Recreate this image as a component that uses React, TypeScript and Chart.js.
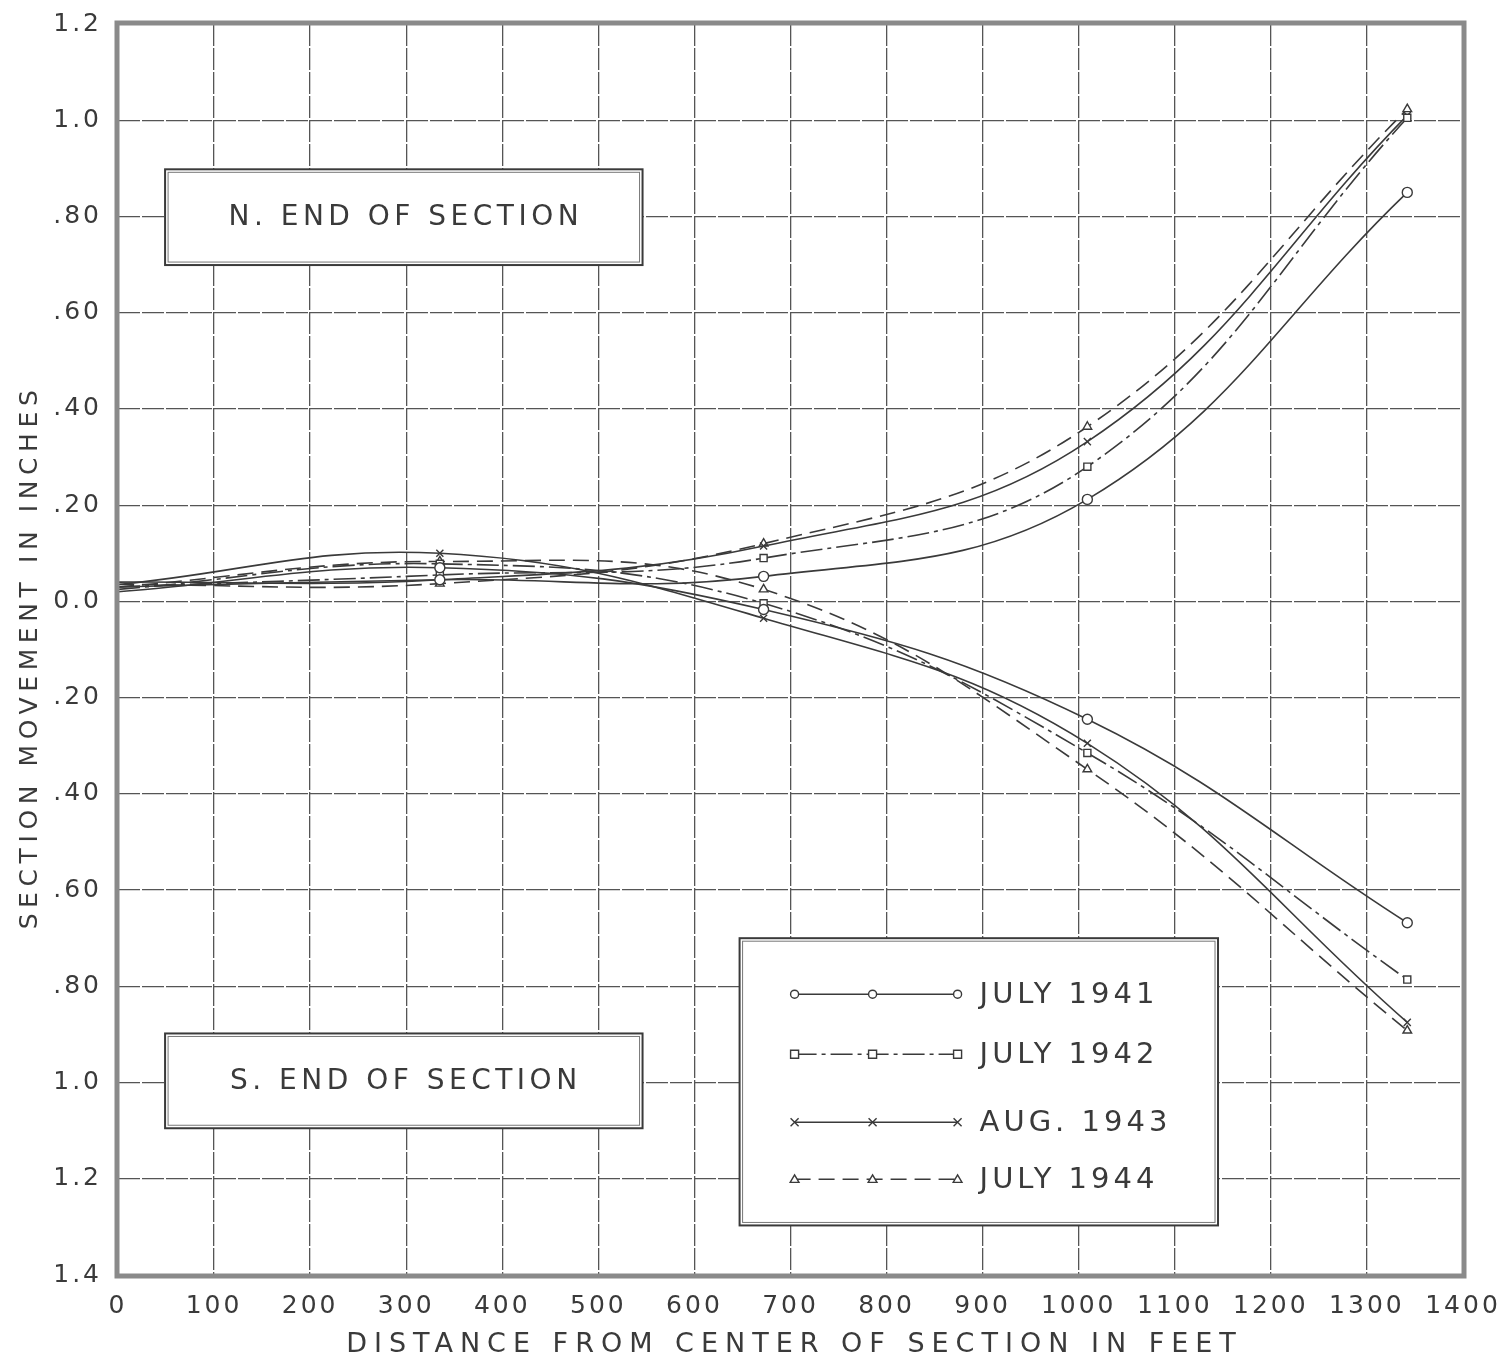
import React, { useEffect, useRef } from "react";
import { Chart, registerables } from "chart.js";

Chart.register(...registerables);

// ---- data ----
const xPositions = [0, 335, 672, 1009, 1342];
const seriesNames = ["JULY 1941", "JULY 1942", "AUG. 1943", "JULY 1944"];

// N. end of section (movement, inches)
const north1941 = [0.03, 0.045, 0.052, 0.212, 0.85];
const north1942 = [0.03, 0.055, 0.09, 0.28, 1.005];
const north1943 = [0.04, 0.045, 0.115, 0.332, 1.01];
const north1944 = [0.035, 0.037, 0.12, 0.363, 1.023];

// S. end of section (movement, inches; plotted downward)
const south1941 = [0.02, 0.07, -0.017, -0.245, -0.668];
const south1942 = [0.025, 0.078, -0.004, -0.315, -0.786];
const south1943 = [0.035, 0.1, -0.035, -0.295, -0.875];
const south1944 = [0.03, 0.083, 0.025, -0.349, -0.892];

const xTickValues = [0, 100, 200, 300, 400, 500, 600, 700, 800, 900, 1000, 1100, 1200, 1300, 1400];
const xTickLabels = ["0", "100", "200", "300", "400", "500", "600", "700", "800", "900", "1000", "1100", "1200", "1300", "1400"];
const yTickValues = [1.2, 1.0, 0.8, 0.6, 0.4, 0.2, 0, -0.2, -0.4, -0.6, -0.8, -1.0, -1.2, -1.4];
const yTickLabels = ["1.2", "1.0", ".80", ".60", ".40", ".20", "0.0", ".20", ".40", ".60", ".80", "1.0", "1.2", "1.4"];

const northTitle = "N. END OF SECTION";
const southTitle = "S. END OF SECTION";
const xTitle = "DISTANCE FROM CENTER OF SECTION IN FEET";
const yTitle = "SECTION MOVEMENT IN INCHES";

// ---- styles ----
const INK = "#3a3a3a";
const FONT = "'DejaVu Sans', sans-serif";
const pointStyles = ["circle", "rect", "crossRot", "triangle"];
const dashes: number[][] = [[], [22, 5, 4, 5], [], [16, 8]];
const northSeries = [north1941, north1942, north1943, north1944];
const southSeries = [south1941, south1942, south1943, south1944];

function toPoints(arr: number[]) {
  return xPositions.map((x, i) => ({ x, y: arr[i] }));
}

function drawMarker(ctx: CanvasRenderingContext2D, style: string, x: number, y: number, r: number) {
  ctx.save();
  ctx.beginPath();
  ctx.lineWidth = 1.4;
  ctx.strokeStyle = INK;
  ctx.fillStyle = "#fff";
  ctx.setLineDash([]);
  if (style === "circle") {
    ctx.arc(x, y, r, 0, Math.PI * 2);
    ctx.fill();
    ctx.stroke();
  } else if (style === "rect") {
    ctx.rect(x - r, y - r, 2 * r, 2 * r);
    ctx.fill();
    ctx.stroke();
  } else if (style === "crossRot") {
    ctx.moveTo(x - r, y - r);
    ctx.lineTo(x + r, y + r);
    ctx.moveTo(x - r, y + r);
    ctx.lineTo(x + r, y - r);
    ctx.stroke();
  } else {
    ctx.moveTo(x, y - r * 1.1);
    ctx.lineTo(x + r * 1.1, y + r * 0.8);
    ctx.lineTo(x - r * 1.1, y + r * 0.8);
    ctx.closePath();
    ctx.fill();
    ctx.stroke();
  }
  ctx.restore();
}

function drawTextBox(ctx: CanvasRenderingContext2D, l: number, t: number, r: number, b: number, text: string) {
  ctx.save();
  ctx.fillStyle = "#fff";
  ctx.fillRect(l, t, r - l, b - t);
  ctx.strokeStyle = INK;
  ctx.lineWidth = 2;
  ctx.strokeRect(l, t, r - l, b - t);
  ctx.lineWidth = 1;
  ctx.strokeStyle = "#777";
  ctx.strokeRect(l + 3, t + 3, r - l - 6, b - t - 6);
  if (text) {
    ctx.fillStyle = INK;
    ctx.font = `28px ${FONT}`;
    (ctx as any).letterSpacing = "4.5px";
    ctx.textAlign = "center";
    ctx.textBaseline = "middle";
    ctx.fillText(text, (l + r) / 2 + 2, (t + b) / 2 + 1);
  }
  ctx.restore();
}

const spacingPlugin = {
  id: "tickSpacing",
  beforeLayout(chart: any) {
    (chart.ctx as any).letterSpacing = "3px";
  },
  beforeDraw(chart: any) {
    (chart.ctx as any).letterSpacing = "3px";
  },
};

const decorPlugin = {
  id: "decor",
  beforeDatasetsDraw(chart: any) {
    const { ctx, scales } = chart;
    const x = scales.x;
    const y = scales.y;
    // annotation boxes
    drawTextBox(ctx, x.getPixelForValue(49), y.getPixelForValue(0.898), x.getPixelForValue(546), y.getPixelForValue(0.699), northTitle);
    drawTextBox(ctx, x.getPixelForValue(49), y.getPixelForValue(-0.898), x.getPixelForValue(546), y.getPixelForValue(-1.095), southTitle);
    // legend box
    const L = x.getPixelForValue(647);
    const R = x.getPixelForValue(1145);
    const T = y.getPixelForValue(-0.70);
    const B = y.getPixelForValue(-1.297);
    drawTextBox(ctx, L, T, R, B, "");
    const rowOffsets = [56, 116, 184, 241];
    seriesNames.forEach((name, i) => {
      const ry = T + rowOffsets[i];
      const x0 = L + 55;
      const x1 = L + 133;
      const x2 = L + 218;
      ctx.save();
      ctx.strokeStyle = INK;
      ctx.lineWidth = 1.5;
      ctx.setLineDash(dashes[i]);
      ctx.beginPath();
      ctx.moveTo(x0, ry);
      ctx.lineTo(x2, ry);
      ctx.stroke();
      ctx.restore();
      [x0, x1, x2].forEach((mx) => drawMarker(ctx, pointStyles[i], mx, ry, 4));
      ctx.save();
      ctx.fillStyle = INK;
      ctx.font = `29px ${FONT}`;
      (ctx as any).letterSpacing = "4px";
      ctx.textAlign = "left";
      ctx.textBaseline = "middle";
      ctx.fillText(name, L + 240, ry + 1);
      ctx.restore();
    });
  },
  afterDraw(chart: any) {
    const { ctx, chartArea } = chart;
    const { left, right, top, bottom } = chartArea;
    ctx.save();
    ctx.strokeStyle = "#8a8a8a";
    ctx.lineWidth = 5;
    ctx.strokeRect(left - 1, top - 1, right - left + 2, bottom - top + 2);
    ctx.restore();
    // axis titles
    ctx.save();
    ctx.fillStyle = INK;
    ctx.font = `27px ${FONT}`;
    (ctx as any).letterSpacing = "7px";
    ctx.textAlign = "center";
    ctx.textBaseline = "middle";
    ctx.fillText(xTitle, (left + right) / 2 + 4, 1345);
    ctx.restore();
    ctx.save();
    ctx.fillStyle = INK;
    ctx.font = `25px ${FONT}`;
    (ctx as any).letterSpacing = "5.6px";
    ctx.textAlign = "center";
    ctx.textBaseline = "middle";
    ctx.translate(30, 657);
    ctx.rotate(-Math.PI / 2);
    ctx.fillText(yTitle, 0, 0);
    ctx.restore();
  },
};

export default function App() {
  const canvasRef = useRef<HTMLCanvasElement | null>(null);

  useEffect(() => {
    const canvas = canvasRef.current;
    if (!canvas) return;
    const datasets: any[] = [];
    seriesNames.forEach((name, i) => {
      [northSeries[i], southSeries[i]].forEach((arr, k) => {
        datasets.push({
          label: `${name} ${k === 0 ? "N" : "S"}`,
          data: toPoints(arr),
          borderColor: INK,
          borderWidth: 1.6,
          borderDash: dashes[i],
          tension: 0.4,
          fill: false,
          pointStyle: pointStyles[i],
          pointRadius: [0, 5, 5, 5, 5],
          pointBorderColor: INK,
          pointBackgroundColor: "#fff",
          pointBorderWidth: 1.4,
        });
      });
    });

    const chart = new Chart(canvas, {
      type: "line",
      data: { datasets },
      plugins: [spacingPlugin, decorPlugin],
      options: {
        animation: false,
        responsive: false,
        devicePixelRatio: 1,
        layout: { padding: { left: 0, top: 24, right: 39, bottom: 0 } },
        plugins: { legend: { display: false }, tooltip: { enabled: false } },
        scales: {
          x: {
            type: "linear",
            min: 0,
            max: 1400,
            afterFit: (s: any) => {
              s.height = 91;
              s.paddingLeft = 0;
              s.paddingRight = 0;
            },
            afterBuildTicks: (s: any) => {
              s.ticks = xTickValues.map((v) => ({ value: v }));
            },
            ticks: {
              padding: 16,
              color: INK,
              font: { family: FONT, size: 25 },
              maxRotation: 0,
              autoSkip: false,
              callback: (v: any) => {
                const idx = xTickValues.indexOf(Number(v));
                return idx >= 0 ? xTickLabels[idx] : "";
              },
            },
            grid: { color: "#555", lineWidth: 1.3, drawTicks: false },
            border: { display: false, dash: [22, 2] },
          },
          y: {
            type: "linear",
            min: -1.4,
            max: 1.2,
            afterFit: (s: any) => {
              s.width = 118;
              s.paddingTop = 0;
              s.paddingBottom = 0;
            },
            afterBuildTicks: (s: any) => {
              s.ticks = yTickValues.map((v) => ({ value: v }));
            },
            ticks: {
              padding: 16,
              color: INK,
              font: { family: FONT, size: 25 },
              autoSkip: false,
              callback: (v: any) => {
                const idx = yTickValues.findIndex((t) => Math.abs(t - Number(v)) < 1e-6);
                return idx >= 0 ? yTickLabels[idx] : "";
              },
            },
            grid: { color: "#555", lineWidth: 1.3, drawTicks: false },
            border: { display: false, dash: [22, 2] },
          },
        },
      },
    });
    return () => chart.destroy();
  }, []);

  return (
    <div style={{ position: "absolute", left: 0, top: 0, width: 1502, height: 1366, background: "#fff" }}>
      <canvas ref={canvasRef} width={1502} height={1366} style={{ display: "block", width: 1502, height: 1366 }} />
    </div>
  );
}
